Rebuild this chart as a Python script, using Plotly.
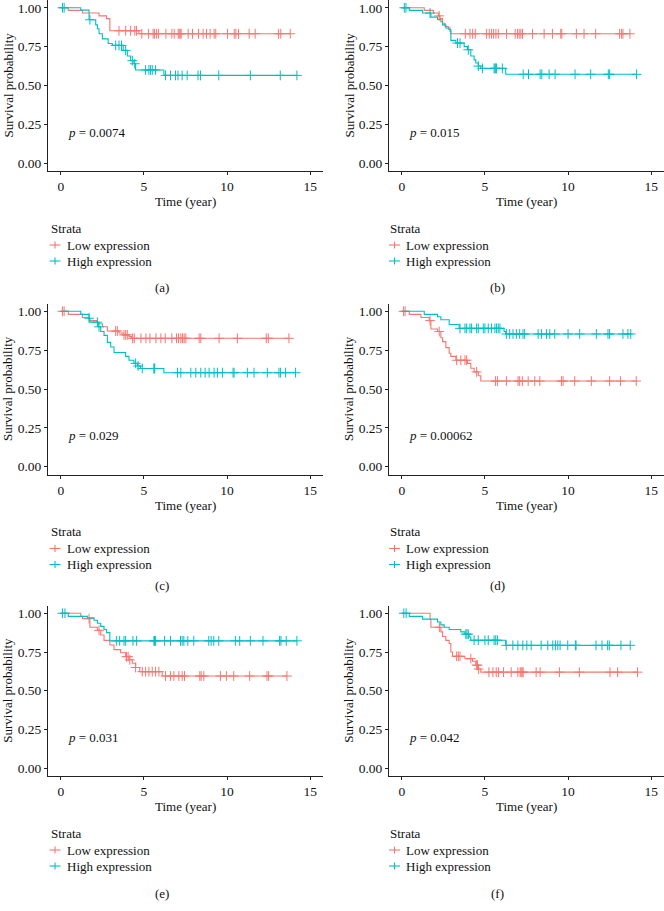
import numpy as np
import plotly.graph_objects as go

LOW_COL = "#F8766D"
HIGH_COL = "#00BFC4"
FONT = "Liberation Serif, Times New Roman, serif"

# ---- survival data (event times, survival after the event, censor times) ----
# (a)
a_low_time = [0.45, 1.3, 2.3, 2.75, 2.95, 4.7]
a_low_surv = [0.983, 0.966, 0.948, 0.93, 0.852, 0.833]
a_low_cens = [3.5, 3.9, 4.2, 4.45, 4.55, 4.87, 5.27, 5.55, 5.63, 5.75, 5.87, 6.32, 6.68, 6.82, 7.06,
              7.12, 7.18, 7.24, 7.66, 7.92, 8.28, 8.56, 8.76, 8.98, 9.22, 9.32, 10.03, 10.43, 10.53,
              10.69, 11.33, 11.69, 13.09, 13.23, 13.8]
a_high_time = [1.2, 1.7, 2.1, 2.2, 2.3, 2.5, 2.85, 3.1, 3.75, 4.0, 4.2, 4.4, 4.5, 6.2]
a_high_surv = [0.985, 0.923, 0.89, 0.865, 0.833, 0.80, 0.77, 0.758, 0.726, 0.69, 0.66, 0.64, 0.60, 0.565]
a_high_cens = [0.1, 0.2, 1.75, 3.3, 3.5, 3.65, 3.9, 4.3, 4.45, 5.1, 5.3, 5.4, 5.5, 5.7, 6.3, 6.6, 6.9,
               7.05, 7.3, 7.6, 8.25, 8.4, 9.5, 11.4, 13.2, 14.2]

# (b)
b_low_time = [1.35, 1.9, 2.2, 2.3, 2.45, 2.6, 2.8, 2.95]
b_low_surv = [0.983, 0.966, 0.948, 0.93, 0.90, 0.88, 0.86, 0.833]
b_low_cens = [2.25, 3.82, 4.1, 4.26, 4.42, 5.1, 5.26, 5.4, 5.52, 5.66, 5.8, 6.3, 6.82, 6.96, 7.06,
              7.16, 7.26, 7.86, 8.56, 9.06, 9.56, 9.62, 10.5, 10.96, 11.66, 13.1, 13.22, 13.3, 13.72]
b_high_time = [0.45, 1.25, 1.75, 2.15, 2.35, 2.45, 2.65, 2.9, 2.95, 3.25, 3.75, 3.95, 4.15, 4.35,
               4.45, 4.6, 4.75, 6.25]
b_high_surv = [0.983, 0.966, 0.94, 0.925, 0.91, 0.89, 0.87, 0.85, 0.79, 0.773, 0.75, 0.73, 0.69,
               0.665, 0.645, 0.625, 0.61, 0.572]
b_high_cens = [0.15, 0.25, 1.7, 3.35, 3.5, 4.0, 4.6, 4.85, 5.55, 5.6, 5.65, 5.7, 6.05, 7.3, 7.62,
               8.32, 8.42, 8.86, 9.22, 10.42, 11.36, 12.42, 12.5, 14.12]

# (c)
c_low_time = [0.45, 1.3, 1.7, 2.2, 2.5, 2.8, 3.5, 3.75, 4.1, 4.25]
c_low_surv = [0.98, 0.96, 0.94, 0.92, 0.90, 0.873, 0.86, 0.848, 0.837, 0.826]
c_low_cens = [0.1, 0.2, 3.3, 3.4, 3.8, 3.9, 4.0, 4.32, 4.42, 4.82, 5.12, 5.36, 5.72, 6.02, 6.28, 6.68,
              6.96, 7.08, 7.22, 7.32, 7.42, 7.52, 8.32, 8.42, 9.52, 10.62, 12.36, 12.48, 13.72]
c_high_time = [1.2, 1.7, 1.75, 2.25, 2.4, 2.6, 2.8, 3.0, 3.2, 3.9, 4.1, 4.4, 4.6, 4.8, 6.2]
c_high_surv = [0.98, 0.955, 0.93, 0.90, 0.87, 0.845, 0.80, 0.77, 0.735, 0.71, 0.685, 0.665, 0.648,
               0.632, 0.605]
c_high_cens = [1.7, 2.2, 2.3, 4.5, 4.65, 4.9, 5.6, 5.62, 5.65, 7.02, 7.22, 7.82, 8.12, 8.42, 8.68,
               8.92, 9.22, 9.42, 9.72, 10.36, 10.42, 11.22, 11.62, 12.42, 13.12, 13.22, 13.52, 14.12]

# (d)
d_low_time = [0.45, 1.15, 1.65, 1.75, 2.15, 2.35, 2.45, 2.65, 2.85, 2.95, 3.25, 3.95, 4.15, 4.35,
              4.6, 4.75]
d_low_surv = [0.98, 0.96, 0.94, 0.886, 0.87, 0.83, 0.805, 0.766, 0.73, 0.71, 0.685, 0.665, 0.633,
              0.61, 0.585, 0.551]
d_low_cens = [0.1, 0.2, 1.7, 2.25, 3.3, 3.55, 3.8, 3.9, 4.5, 5.63, 5.75, 6.29, 6.99, 7.09, 7.25, 7.6,
              8.0, 8.3, 9.6, 9.7, 10.4, 11.4, 12.5, 13.15, 14.1]
d_high_time = [1.35, 2.15, 2.35, 2.85, 3.45, 6.15, 6.25]
d_high_surv = [0.98, 0.965, 0.945, 0.915, 0.89, 0.87, 0.854]
d_high_cens = [3.5, 3.8, 3.9, 4.1, 4.2, 4.5, 4.6, 4.9, 5.0, 5.2, 5.4, 5.6, 5.7, 5.8, 5.9, 6.29, 6.49,
               6.69, 6.89, 7.09, 7.29, 7.39, 8.2, 8.4, 8.7, 8.9, 9.2, 10.0, 10.7, 11.7, 12.4, 12.5,
               13.3, 13.6, 13.77]

# (e)
e_low_time = [1.2, 1.3, 1.75, 2.2, 2.4, 2.6, 2.95, 3.2, 3.6, 3.9, 4.1, 4.3, 4.5, 4.75, 6.1]
e_low_surv = [0.98, 0.965, 0.91, 0.89, 0.86, 0.825, 0.795, 0.765, 0.745, 0.72, 0.70, 0.677, 0.65,
              0.623, 0.595]
e_low_cens = [1.7, 2.3, 3.95, 4.05, 4.15, 4.5, 4.9, 5.1, 5.3, 5.5, 5.7, 5.9, 6.3, 6.6, 6.8, 7.1, 7.3,
              7.44, 8.36, 8.44, 8.6, 9.6, 9.96, 10.4, 11.36, 12.4, 12.5, 13.6]
e_high_time = [0.45, 1.6, 2.0, 2.2, 2.4, 2.6, 2.75, 2.95]
e_high_surv = [0.98, 0.97, 0.955, 0.935, 0.915, 0.895, 0.875, 0.822]
e_high_cens = [0.1, 0.25, 3.34, 3.54, 3.8, 3.9, 4.34, 4.56, 5.6, 5.64, 5.7, 6.24, 6.6, 7.2, 7.3, 7.4,
               7.64, 8.0, 8.9, 9.04, 9.2, 9.5, 10.5, 10.76, 11.4, 12.16, 13.16, 13.24, 13.56, 14.2]

# (f)
f_low_time = [1.7, 1.75, 2.35, 2.45, 2.65, 2.85, 2.95, 3.05, 3.8, 4.25, 4.45, 4.6, 4.75]
f_low_surv = [0.96, 0.91, 0.88, 0.85, 0.825, 0.805, 0.75, 0.722, 0.707, 0.69, 0.665, 0.64, 0.62]
f_low_cens = [2.26, 3.3, 3.4, 3.5, 4.15, 4.5, 4.55, 4.62, 5.24, 5.48, 5.68, 5.82, 6.12, 6.58, 6.98,
              7.12, 7.18, 7.24, 7.3, 8.08, 8.32, 9.48, 10.68, 12.52, 12.98, 14.18]
f_high_time = [0.45, 1.25, 2.15, 2.35, 2.55, 2.85, 3.55, 3.8, 4.05, 4.15, 6.25]
f_high_surv = [0.98, 0.962, 0.944, 0.925, 0.91, 0.895, 0.88, 0.865, 0.847, 0.826, 0.793]
f_high_cens = [0.12, 0.26, 3.85, 3.92, 4.0, 4.35, 4.6, 5.0, 5.2, 5.55, 5.65, 5.75, 6.28, 6.68, 6.98,
               7.28, 7.52, 7.78, 8.38, 8.78, 9.08, 9.24, 9.38, 9.52, 9.98, 10.44, 10.48, 11.68,
               12.04, 12.38, 12.48, 13.18, 13.74]

p_values = ["0.0074", "0.015", "0.029", "0.00062", "0.031", "0.042"]
panel_labels = ["(a)", "(b)", "(c)", "(d)", "(e)", "(f)"]
group_names = ["Low expression", "High expression"]
x_ticks = [0, 5, 10, 15]
y_ticks = [0, 0.25, 0.5, 0.75, 1.0]

panels = [
    [(a_low_time, a_low_surv, a_low_cens), (a_high_time, a_high_surv, a_high_cens)],
    [(b_low_time, b_low_surv, b_low_cens), (b_high_time, b_high_surv, b_high_cens)],
    [(c_low_time, c_low_surv, c_low_cens), (c_high_time, c_high_surv, c_high_cens)],
    [(d_low_time, d_low_surv, d_low_cens), (d_high_time, d_high_surv, d_high_cens)],
    [(e_low_time, e_low_surv, e_low_cens), (e_high_time, e_high_surv, e_high_cens)],
    [(f_low_time, f_low_surv, f_low_cens), (f_high_time, f_high_surv, f_high_cens)],
]

# ---- page geometry (px) ----
W, H = 664, 911
col_left = [48, 389]
col_right = [323, 664]
row_top = [0, 303.5, 605.5]
row_bottom = [171, 474.5, 776]
label_x = [161.5, 497.5]
label_y = [287, 585, 893]


def px(x):
    return x / W


def py(y):
    return 1 - y / H


def km_step(t, s, cens):
    end = max(t + cens)
    return [0] + t + [end], [1.0] + s + [s[-1]]


def surv_at(t, s, times):
    idx = np.searchsorted(np.array(t), np.array(times), side="right")
    return np.r_[1.0, s][idx]


fig = go.Figure()
annotations = []
shapes = []
txt = dict(family=FONT, size=13, color="#111111")
tick_txt = dict(family=FONT, size=13.5, color="#111111")

for i, groups in enumerate(panels):
    r, c = divmod(i, 2)
    n = "" if i == 0 else str(i + 1)
    xa, ya = "x" + n, "y" + n

    for (t, s, cens), col, name in zip(groups, [LOW_COL, HIGH_COL], group_names):
        sx, sy = km_step(t, s, cens)
        fig.add_trace(go.Scatter(
            x=sx, y=sy, mode="lines", line=dict(color=col, width=1.1, shape="hv"),
            name=name, showlegend=False, xaxis=xa, yaxis=ya, hoverinfo="skip"))
        fig.add_trace(go.Scatter(
            x=cens, y=surv_at(t, s, cens), mode="markers",
            marker=dict(symbol="cross-thin", size=7, color=col, line=dict(width=1, color=col)),
            name=name, showlegend=False, xaxis=xa, yaxis=ya))

    ax = dict(showline=True, linecolor="#222222", linewidth=1, ticks="outside", ticklen=3,
              tickcolor="#222222", tickwidth=1, showgrid=False, zeroline=False,
              tickfont=tick_txt)
    fig.layout["xaxis" + n] = dict(ax, domain=[px(col_left[c]), px(col_right[c])],
                                   range=[-0.77, 15.77], tickvals=x_ticks, anchor=ya)
    fig.layout["yaxis" + n] = dict(ax, domain=[py(row_bottom[r]), py(row_top[r])],
                                   range=[-0.05, 1.05], tickvals=y_ticks,
                                   ticktext=["%.2f" % v for v in y_ticks], anchor=xa)

    # axis titles
    annotations.append(dict(text="Time (year)", xref="paper", yref="paper",
                            x=px((col_left[c] + col_right[c]) / 2), y=py(row_bottom[r] + 30.5),
                            xanchor="center", yanchor="middle", showarrow=False, font=txt))
    annotations.append(dict(text="Survival probability", xref="paper", yref="paper", textangle=-90,
                            x=px(col_left[c] - 40), y=py((row_top[r] + row_bottom[r]) / 2),
                            xanchor="center", yanchor="middle", showarrow=False, font=txt))
    # p value
    annotations.append(dict(text="<i>p</i> = " + p_values[i], xref=xa, yref=ya, x=0.3, y=0.2,
                            xanchor="left", yanchor="middle", showarrow=False, font=txt))
    # panel label
    annotations.append(dict(text=panel_labels[i], xref="paper", yref="paper",
                            x=px(label_x[c]), y=py(label_y[r]), xanchor="center",
                            yanchor="middle", showarrow=False, font=txt))

    # legend block under each panel
    lx = col_left[c] + (1 if c == 0 else -0.5)
    ly = row_bottom[r] + 57
    annotations.append(dict(text="Strata", xref="paper", yref="paper", x=px(lx), y=py(ly),
                            xanchor="left", yanchor="middle", showarrow=False, font=txt))
    for k, (col, name) in enumerate(zip([LOW_COL, HIGH_COL], group_names)):
        yy = ly + 17 + 16 * k
        annotations.append(dict(text=name, xref="paper", yref="paper", x=px(lx + 15.5), y=py(yy),
                                xanchor="left", yanchor="middle", showarrow=False, font=txt))
        shapes.append(dict(type="line", xref="paper", yref="paper", x0=px(lx + 0.5), x1=px(lx + 11.5),
                           y0=py(yy), y1=py(yy), line=dict(color=col, width=1.1)))
        shapes.append(dict(type="line", xref="paper", yref="paper", x0=px(lx + 6), x1=px(lx + 6),
                           y0=py(yy - 3.5), y1=py(yy + 3.5), line=dict(color=col, width=1.1)))

fig.update_layout(
    width=W, height=H,
    margin=dict(l=0, r=0, t=0, b=0),
    paper_bgcolor="white", plot_bgcolor="white",
    showlegend=False,
    annotations=annotations,
    shapes=shapes,
    font=txt,
)

# page body margin would push the 664x911 figure off the window
fig.write_html("out.html", config={"displayModeBar": False},
               post_script="document.body.style.margin='0';")
